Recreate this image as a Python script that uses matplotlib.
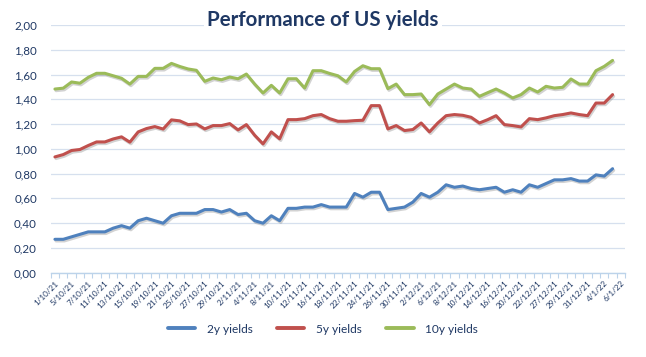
import matplotlib
matplotlib.use("Agg")
import matplotlib.pyplot as plt
import matplotlib.patheffects as pe
import numpy as np

dates = [
    "1/10/21", "4/10/21", "5/10/21", "6/10/21", "7/10/21", "8/10/21", "11/10/21", "12/10/21",
    "13/10/21", "14/10/21", "15/10/21", "18/10/21", "19/10/21", "20/10/21", "21/10/21",
    "22/10/21", "25/10/21", "26/10/21", "27/10/21", "28/10/21", "29/10/21",
    "1/11/21", "2/11/21", "3/11/21", "4/11/21", "5/11/21", "8/11/21", "9/11/21", "10/11/21",
    "11/11/21", "12/11/21", "15/11/21", "16/11/21", "17/11/21", "18/11/21", "19/11/21",
    "22/11/21", "23/11/21", "24/11/21", "25/11/21", "26/11/21", "29/11/21", "30/11/21",
    "1/12/21", "2/12/21", "3/12/21", "6/12/21", "7/12/21", "8/12/21", "9/12/21", "10/12/21",
    "13/12/21", "14/12/21", "15/12/21", "16/12/21", "17/12/21", "20/12/21", "21/12/21",
    "22/12/21", "23/12/21", "27/12/21", "28/12/21", "29/12/21", "30/12/21", "31/12/21",
    "3/1/22", "4/1/22", "5/1/22", "6/1/22",
]

yields_2y = [
    0.27, 0.27, 0.29, 0.31, 0.33, 0.33, 0.33, 0.36, 0.38, 0.36,
    0.42, 0.44, 0.42, 0.40, 0.46, 0.48, 0.48, 0.48, 0.51, 0.51,
    0.49, 0.51, 0.47, 0.48, 0.42, 0.40, 0.46, 0.42, 0.52, 0.52,
    0.53, 0.53, 0.55, 0.53, 0.53, 0.53, 0.64, 0.61, 0.65, 0.65,
    0.51, 0.52, 0.53, 0.57, 0.64, 0.61, 0.65, 0.71, 0.69, 0.70,
    0.68, 0.67, 0.68, 0.69, 0.65, 0.67, 0.65, 0.71, 0.69, 0.72,
    0.75, 0.75, 0.76, 0.74, 0.74, 0.79, 0.78, 0.84,
]
yields_5y = [
    0.935, 0.954, 0.987, 0.995, 1.027, 1.056, 1.056, 1.08, 1.097, 1.054,
    1.137, 1.164, 1.18, 1.16, 1.234, 1.226, 1.196, 1.201, 1.161, 1.188,
    1.188, 1.204, 1.153, 1.196, 1.11, 1.04, 1.137, 1.081, 1.236, 1.236,
    1.244, 1.268, 1.277, 1.244, 1.223, 1.223, 1.228, 1.231, 1.349, 1.349,
    1.161, 1.188, 1.148, 1.156, 1.209, 1.137, 1.209, 1.268, 1.277, 1.271,
    1.255, 1.209, 1.236, 1.268, 1.196, 1.188, 1.177, 1.244, 1.236, 1.25,
    1.268, 1.277, 1.29, 1.277, 1.268, 1.37, 1.37, 1.438,
]
yields_10y = [
    1.483, 1.49, 1.54, 1.53, 1.577, 1.61, 1.61, 1.59, 1.57, 1.523,
    1.585, 1.585, 1.65, 1.65, 1.69, 1.665, 1.645, 1.634, 1.545, 1.572,
    1.558, 1.58, 1.566, 1.604, 1.523, 1.451, 1.513, 1.451, 1.566, 1.566,
    1.491, 1.631, 1.631, 1.609, 1.59, 1.54, 1.625, 1.671, 1.647, 1.647,
    1.486, 1.523, 1.438, 1.438, 1.443, 1.357, 1.443, 1.483, 1.523, 1.491,
    1.483, 1.424, 1.454, 1.483, 1.451, 1.411, 1.438, 1.491, 1.459, 1.505,
    1.491, 1.497, 1.564, 1.523, 1.523, 1.631, 1.666, 1.714,
]
series_names = ["2y yields", "5y yields", "10y yields"]
y_ticks = [0.0, 0.2, 0.4, 0.6, 0.8, 1.0, 1.2, 1.4, 1.6, 1.8, 2.0]

colors = ["#4F81BD", "#C0504D", "#9BBB59"]
navy = "#1F3864"
grid_c = "#D6E0EE"
axis_c = "#BCD3EA"

plt.rcParams['font.family'] = ['Lato', 'DejaVu Sans']

fig = plt.figure(figsize=(6.46, 3.57), dpi=100)
ax = fig.add_axes([0.0786, 0.236, 0.889, 0.694])

x = np.arange(len(dates))
shadow = [pe.SimpleLineShadow(offset=(0.8, -1.2), shadow_color="#808080", alpha=0.35),
          pe.Normal()]
for vals, name, c in zip([yields_2y, yields_5y, yields_10y], series_names, colors):
    ax.plot(x[:len(vals)], vals, color=c, lw=2.2, label=name,
            solid_joinstyle="round", solid_capstyle="round",
            path_effects=shadow, zorder=3)

ax.set_xlim(-0.5, len(dates) - 0.5)
ax.set_ylim(0, 2.0)
ax.set_yticks(y_ticks)
ax.set_yticklabels([f"{v:.2f}".replace(".", ",") for v in y_ticks])
ax.yaxis.grid(True, color=grid_c, lw=0.9)
ax.set_axisbelow(True)

ax.set_xticks(x[::2])
ax.set_xticklabels(dates[::2], rotation=45, ha="right", va="top",
                   rotation_mode="anchor", fontsize=5.9, color=navy)
ax.set_xticks(np.arange(-0.5, len(dates), 1.0), minor=True)
ax.tick_params(axis="x", which="major", length=0, pad=5)
ax.tick_params(axis="x", which="minor", length=3.5, color=axis_c, width=0.8)
ax.tick_params(axis="y", length=0, pad=10, labelsize=8.3, labelcolor=navy)

for s in ["top", "right", "left"]:
    ax.spines[s].set_visible(False)
ax.spines["bottom"].set_color(axis_c)
ax.spines["bottom"].set_linewidth(1.0)

fig.text(0.5, 0.943, "Performance of US yields", ha="center", va="center",
         fontsize=14.8, fontweight="bold", color=navy,
         bbox=dict(facecolor="white", edgecolor="none", pad=2))

leg = fig.legend(loc="center", bbox_to_anchor=(0.5, 0.078), ncol=3, frameon=False,
                 fontsize=8.6, handlelength=2.3, columnspacing=2.0, handletextpad=1.0)
for t in leg.get_texts():
    t.set_color(navy)
for h in leg.get_lines():
    h.set_path_effects([])
    h.set_linewidth(2.8)

fig.savefig("out.png", dpi=100)
